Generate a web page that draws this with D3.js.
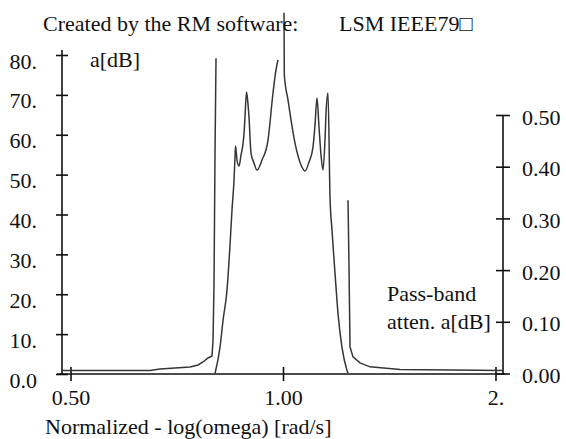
<!DOCTYPE html>
<html lang="en">
<head>
<meta charset="UTF-8">
<title>RM software - LSM IEEE79</title>
<script src="https://cdn.jsdelivr.net/npm/d3@7"></script>
<style>
  body { margin: 0; background: #fff; }
  svg { display: block; }
  .curve { fill: none; stroke: #363636; stroke-width: 1.5; }
  .axis line, .axis-line { stroke: #111; stroke-width: 1.6; }
</style>
</head>
<body>
<script>
const omegaTicks = [0.5, 1, 2];
const omegaLabels = ["0.50", "1.00", "2."];
const attTicks = [0, 10, 20, 30, 40, 50, 60, 70, 80];
const attLabels = ["0.0", "10.", "20.", "30.", "40.", "50.", "60.", "70.", "80."];
const passTicks = [0, 0.1, 0.2, 0.3, 0.4, 0.5];
const passLabels = ["0.00", "0.10", "0.20", "0.30", "0.40", "0.50"];
const omegaRange = [0.4863, 2.0496];

// stop-band attenuation a[dB] below the pass band
const lowOmega = [0.4863, 0.6480, 0.6695, 0.7031, 0.7383, 0.7579, 0.7704, 0.7830, 0.7933, 0.7959, 0.7985, 0.8011, 0.8037];
const lowAtt   = [0.88, 0.88, 1.25, 1.50, 1.76, 2.26, 3.01, 4.01, 4.51, 8.53, 22.8, 55.4, 79.2];
// stop-band attenuation a[dB] above the pass band
const highOmega = [1.2362, 1.2402, 1.2443, 1.2565, 1.2855, 1.3282, 1.4647, 2.0496];
const highAtt   = [43.6, 27.3, 6.8, 4.3, 2.8, 1.8, 1.1, 0.88];
// pass-band attenuation a[dB] (right axis), null = gap
const passOmega = [0.8011, 0.8142, 0.8223, 0.8330, 0.8412, 0.8467, 0.8523, 0.8551, 0.8565, 0.8607, 0.8663, 0.8720, 0.8768, 0.8805, 0.8834, 0.8878, 0.8921, 0.8950, 0.9009, 0.9097, 0.9187, 0.9338, 0.9523, 0.9679, 0.9774, 0.9838, 0.9900, 1.0033, 1.0043, 1.0164, 1.0399, 1.0639, 1.0744, 1.0885, 1.1028, 1.1100, 1.1173, 1.1246, 1.1320, 1.1394, 1.1468, 1.1506, 1.1581, 1.1657, 1.1733, 1.1849, 1.1965, 1.2122, 1.2322, 1.2362];
const passAtt   = [0, 0.0504, 0.1027, 0.1609, 0.2481, 0.3159, 0.3740, 0.4186, 0.4399, 0.4128, 0.4012, 0.4225, 0.4399, 0.4632, 0.4961, 0.5446, 0.5213, 0.4961, 0.4264, 0.4070, 0.3934, 0.4128, 0.4516, 0.5426, 0.5872, 0.6066, null, 0.6977, 0.5775, 0.5291, 0.4457, 0.3992, 0.3915, 0.4089, 0.4380, 0.4806, 0.5329, 0.4767, 0.4225, 0.3934, 0.4516, 0.5039, 0.5426, 0.3411, 0.2771, 0.1938, 0.1163, 0.0504, 0.0058, 0];

const w = 566, h = 439;
const serif = "'Liberation Serif', 'Times New Roman', serif";

const svg = d3.select("body").append("svg")
  .attr("width", w)
  .attr("height", h)
  .attr("font-family", serif)
  .attr("font-size", 22);

const x = d3.scaleLog().domain(omegaRange).range([62, 503]);
const yL = d3.scaleLinear().domain([0, 80]).range([374, 55]);
const yR = d3.scaleLinear().domain([0, 0.5]).range([373.5, 115]);

// axis lines
svg.append("line").attr("class", "axis-line")
  .attr("x1", 57).attr("x2", 505).attr("y1", 374).attr("y2", 374);
svg.append("line").attr("class", "axis-line")
  .attr("x1", 62).attr("x2", 62).attr("y1", 50).attr("y2", 374);
svg.append("line").attr("class", "axis-line")
  .attr("x1", 503).attr("x2", 503).attr("y1", yR(0.5)).attr("y2", 374);

const xAxis = svg.append("g").attr("class", "axis")
  .attr("transform", "translate(0,374)")
  .call(d3.axisBottom(x).tickValues(omegaTicks).tickFormat((d, i) => omegaLabels[i]));

const leftAxis = svg.append("g").attr("class", "axis")
  .attr("transform", "translate(62,0)")
  .call(d3.axisLeft(yL).tickValues(attTicks).tickFormat((d, i) => attLabels[i]));

const rightAxis = svg.append("g").attr("class", "axis")
  .attr("transform", "translate(503,0)")
  .call(d3.axisRight(yR).tickValues(passTicks).tickFormat((d, i) => passLabels[i]));

svg.selectAll(".axis .domain").remove();
svg.selectAll(".axis").attr("font-family", serif).attr("font-size", 22);

xAxis.selectAll(".tick line").attr("y1", -7).attr("y2", 7);
xAxis.selectAll(".tick text").attr("y", 31).attr("dy", null);

leftAxis.selectAll(".tick line").attr("x1", -6).attr("x2", 6);
leftAxis.selectAll(".tick text").attr("x", -25).attr("dy", null).attr("y", 13);

rightAxis.selectAll(".tick line").attr("x1", -7).attr("x2", 7);
rightAxis.selectAll(".tick text").attr("x", 19).attr("dy", null).attr("y", 9);

svg.selectAll(".axis text").attr("fill", "#111");

// curves
const stopLine = d3.line().x(d => x(d[0])).y(d => yL(d[1]));
const passLine = d3.line().defined(d => d[1] != null)
  .x(d => x(d[0])).y(d => yR(d[1]))
  .curve(d3.curveMonotoneX);

svg.append("path").attr("class", "curve").attr("d", stopLine(d3.zip(lowOmega, lowAtt)));
svg.append("path").attr("class", "curve").attr("d", stopLine(d3.zip(highOmega, highAtt)));
svg.append("path").attr("class", "curve").attr("d", passLine(d3.zip(passOmega, passAtt)));

// texts
const label = (tx, ty, s) => svg.append("text")
  .attr("x", tx).attr("y", ty)
  .attr("fill", "#111")
  .text(s);

label(43, 31, "Created by the RM software:");
label(339, 31, "LSM IEEE79\u25A1");
label(90, 67, "a[dB]");
label(387, 301, "Pass-band");
label(387, 329, "atten. a[dB]");
label(45, 434, "Normalized - log(omega) [rad/s]");
</script>
</body>
</html>
